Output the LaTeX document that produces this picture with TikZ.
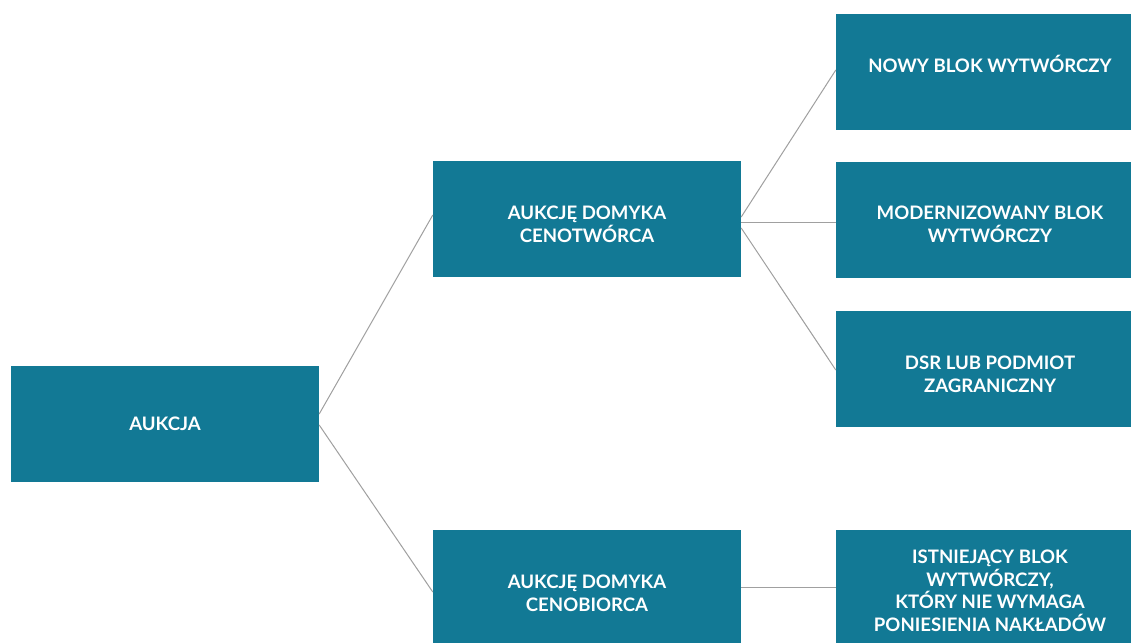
\documentclass[tikz,border=0pt]{standalone}
\usepackage{fontspec}
\setmainfont{Lato}
\usepackage{tikz}
\usetikzlibrary{positioning}
\usepackage{xcolor}
\definecolor{boxteal}{HTML}{127995}
\definecolor{linkgray}{HTML}{A0A0A0}

\begin{document}
\begin{tikzpicture}[x=1pt, y=-1pt,
	box/.style={fill=boxteal, text=white, align=center, inner sep=0pt,
		minimum width=308pt, minimum height=116pt,
		font=\fontsize{18.6}{22.7}\selectfont\bfseries},
	twoline/.style={text height=46pt, text depth=0pt},
	link/.style={draw=linkgray, line width=1pt}]
	\clip (0,0) rectangle (1131,642);
	\fill[white] (0,0) rectangle (1131,642);
	\node (auk) [box] at (165, 423.5) {AUKCJA};
	\node (cnt) [box, twoline] at (587, 219) {AUKCJĘ DOMYKA\\CENOTWÓRCA};
	\node (cnb) [box, twoline] at (587, 588) {AUKCJĘ DOMYKA\\CENOBIORCA};
	\node (nowy) [box, text height=13pt, text depth=13pt] at (990, 72) {NOWY BLOK WYTWÓRCZY};
	\node (mod) [box, twoline] at (990, 219.5) {MODERNIZOWANY BLOK\\WYTWÓRCZY};
	\node (dsr) [box, twoline] at (990, 369) {DSR LUB PODMIOT\\ZAGRANICZNY};
	\node (ist) [box, text height=87pt, text depth=0pt] at (990, 588) {ISTNIEJĄCY BLOK\\WYTWÓRCZY,\\KTÓRY NIE WYMAGA\\PONIESIENIA NAKŁADÓW};
	\draw[link] ([yshift=9.5pt]auk.east) -- ([yshift=4pt]cnt.west);
	\draw[link] ([yshift=-1.5pt]auk.east) -- ([yshift=-4pt]cnb.west);
	\draw[link] ([yshift=2pt]cnt.east) -- ([yshift=2pt]nowy.west);
	\draw[link] ([yshift=-3pt]cnt.east) -- ([yshift=-2.5pt]mod.west);
	\draw[link] ([yshift=-9pt]cnt.east) -- ([yshift=-1pt]dsr.west);
	\draw[link] ([yshift=1pt]cnb.east) -- ([yshift=1pt]ist.west);
\end{tikzpicture}
\end{document}
